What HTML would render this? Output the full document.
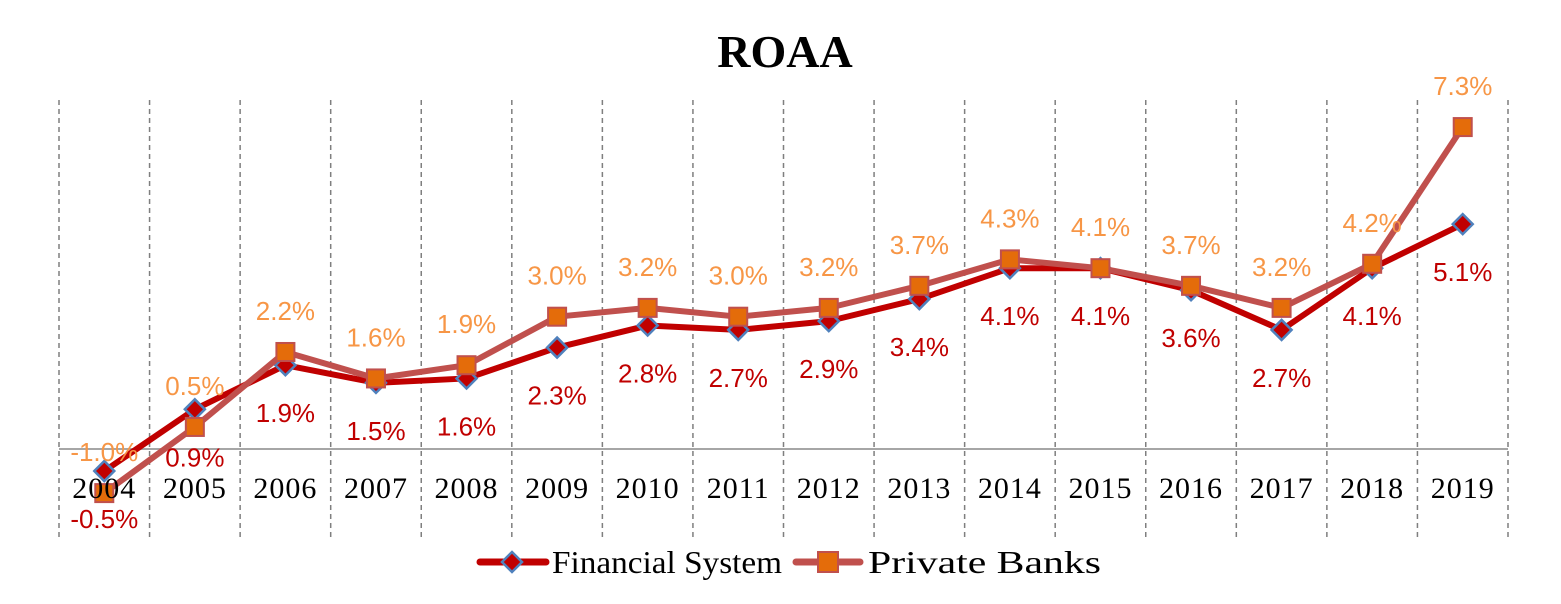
<!DOCTYPE html>
<html><head><meta charset="utf-8"><style>
body{margin:0;background:#fff}
svg{display:block}
</style></head><body>
<svg id="chart" width="1561" height="604" viewBox="0 0 1561 604" xmlns="http://www.w3.org/2000/svg">
<rect width="1561" height="604" fill="#fff"/>
<text x="785" y="67" text-anchor="middle" font-family="Liberation Serif, serif" font-weight="bold" font-size="46">ROAA</text>
<g id="grid"></g>
<g id="axis"></g>
<g id="series"></g>
<g id="labels"></g>
<g>
<g>
<line x1="480" y1="562" x2="546" y2="562" stroke="#c00000" stroke-width="7" stroke-linecap="round"/>
<polygon points="512,552 522,562 512,572 502,562" fill="#c00000" stroke="#4f81bd" stroke-width="2.5"/>
<text x="552" y="573" font-family="Liberation Serif, serif" font-size="32" textLength="230" lengthAdjust="spacingAndGlyphs">Financial System</text>
</g>
<g>
<line x1="796" y1="562" x2="860" y2="562" stroke="#c0504d" stroke-width="7" stroke-linecap="round"/>
<rect x="818" y="552" width="20" height="20" fill="#e46c0a" stroke="#c0504d" stroke-width="2"/>
<text x="868" y="573" font-family="Liberation Serif, serif" font-size="32" textLength="233" lengthAdjust="spacingAndGlyphs">Private Banks</text>
</g>
</g>
</svg>
<script>
const years=["2004","2005","2006","2007","2008","2009","2010","2011","2012","2013","2014","2015","2016","2017","2018","2019"];
const financialSystem=[-0.5,0.9,1.9,1.5,1.6,2.3,2.8,2.7,2.9,3.4,4.1,4.1,3.6,2.7,4.1,5.1];
const privateBanks=[-1.0,0.5,2.2,1.6,1.9,3.0,3.2,3.0,3.2,3.7,4.3,4.1,3.7,3.2,4.2,7.3];
const NS="http://www.w3.org/2000/svg";
const left=59,right=1508,y0=449,pxPer=44.1;
const step=(right-left)/years.length;
function xs(i){return left+step*(i+0.5);}
function ys(v){return y0-v*pxPer;}
function mk(tag,attrs,parent){const e=document.createElementNS(NS,tag);for(const k in attrs)e.setAttribute(k,attrs[k]);parent.appendChild(e);return e;}
const grid=document.getElementById('grid'),axis=document.getElementById('axis'),ser=document.getElementById('series'),lab=document.getElementById('labels');
for(let i=0;i<=years.length;i++){
  const x=left+step*i;
  const l=mk('line',{x1:x,y1:100,x2:x,y2:540,stroke:'#7f7f7f','stroke-width':1.5,'stroke-dasharray':'5,4'},grid);
  
  
}
const ax=mk('line',{x1:left,y1:y0,x2:right,y2:y0,stroke:'#a6a6a6','stroke-width':2},axis);


function line(vals,color,name){
  const p=mk('polyline',{points:vals.map((v,i)=>xs(i)+','+ys(v)).join(' '),fill:'none',stroke:color,'stroke-width':6,'stroke-linejoin':'round'},ser);
  
  
}
line(financialSystem,'#c00000','financial-system-line');
financialSystem.forEach((v,i)=>{
  const x=xs(i),y=ys(v);
  const d=mk('polygon',{points:`${x},${y-10} ${x+10},${y} ${x},${y+10} ${x-10},${y}`,fill:'#c00000',stroke:'#4f81bd','stroke-width':2.5},ser);
  
  
});
line(privateBanks,'#c0504d','private-banks-line');
privateBanks.forEach((v,i)=>{
  const x=xs(i),y=ys(v);
  const r=mk('rect',{x:x-9,y:y-9,width:18,height:18,fill:'#e46c0a',stroke:'#c0504d','stroke-width':2},ser);
  
  
});
years.forEach((yr,i)=>{
  const t=mk('text',{x:xs(i),y:y0+49,'text-anchor':'middle','font-family':'Liberation Serif, serif','font-size':30,'letter-spacing':1,fill:'#000'},lab);
  t.textContent=yr;
  
  
});
financialSystem.forEach((v,i)=>{
  const t=mk('text',{x:xs(i),y:ys(v)+57,'text-anchor':'middle','font-family':'Liberation Sans, sans-serif','font-size':26,fill:'#c00000'},lab);
  t.textContent=v.toFixed(1)+'%';
  
  
});
privateBanks.forEach((v,i)=>{
  const t=mk('text',{x:xs(i),y:ys(v)-32,'text-anchor':'middle','font-family':'Liberation Sans, sans-serif','font-size':26,fill:'#f79646'},lab);
  t.textContent=v.toFixed(1)+'%';
  
  
});
</script>
</body></html>
